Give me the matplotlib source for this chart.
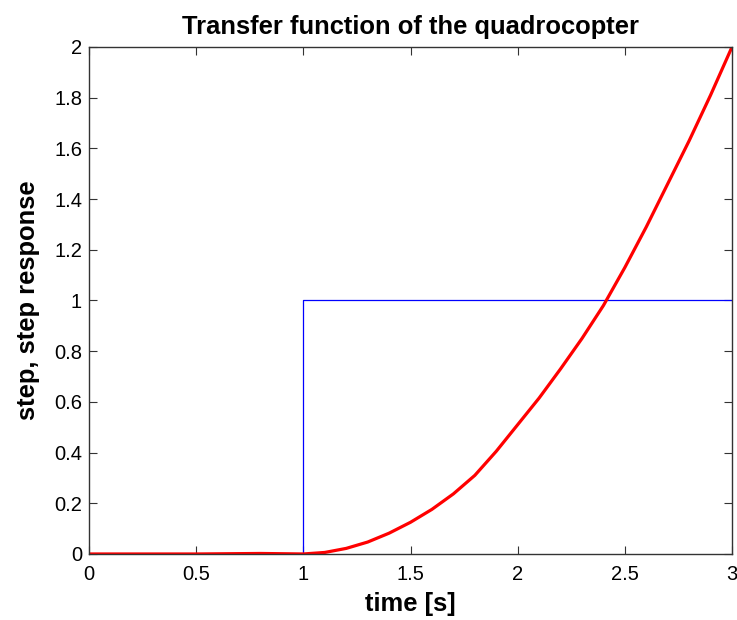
import matplotlib.pyplot as plt

# step input
step_t = [0, 1, 1, 3]
step_y = [0, 0, 1, 1]

# step response of the quadrocopter
resp_t = [0, 0.5, 0.8, 1.0, 1.1, 1.2, 1.3, 1.4, 1.5, 1.6, 1.7, 1.8, 1.9, 2.0,
          2.1, 2.2, 2.3, 2.4, 2.5, 2.6, 2.7, 2.8, 2.9, 3.0]
resp_y = [0, 0, 0.002, 0, 0.006, 0.022, 0.047, 0.082, 0.125, 0.176, 0.237, 0.31,
          0.405, 0.51, 0.615, 0.73, 0.85, 0.98, 1.13, 1.29, 1.46, 1.63, 1.81, 2.0]

plt.rcParams['font.family'] = ['Liberation Sans', 'DejaVu Sans']

fig = plt.figure(figsize=(7.37, 6.2), dpi=100)
ax = fig.add_axes([0.1208, 0.1065, 0.8724, 0.8177])

ax.plot(step_t, step_y, color='#0000ff', linewidth=0.9) # escalon
ax.plot(resp_t, resp_y, color='#ff0000', linewidth=2.3) # respuesta

ax.set_xlim(0, 3)
ax.set_ylim(0, 2)
ax.set_xticks([0, 0.5, 1, 1.5, 2, 2.5, 3])
ax.set_xticklabels(['0', '0.5', '1', '1.5', '2', '2.5', '3'])
ax.set_yticks([0, 0.2, 0.4, 0.6, 0.8, 1, 1.2, 1.4, 1.6, 1.8, 2])
ax.set_yticklabels(['0', '0.2', '0.4', '0.6', '0.8', '1', '1.2', '1.4', '1.6', '1.8', '2'])
ax.tick_params(direction='in', length=6, width=0.8, top=True, right=True,
               labelsize=14.5, color='#333333')
ax.tick_params(axis='x', pad=8)
ax.tick_params(axis='y', pad=5)
for s in ax.spines.values():
    s.set_color('#333333')
    s.set_linewidth(1.0)

ax.set_title('Transfer function of the quadrocopter', fontsize=18.4, fontweight='bold', pad=9)
ax.set_xlabel('time [s]', fontsize=18.4, fontweight='bold', labelpad=6)
ax.set_ylabel('step, step response', fontsize=18.4, fontweight='bold', labelpad=10)

plt.savefig("out.png")
